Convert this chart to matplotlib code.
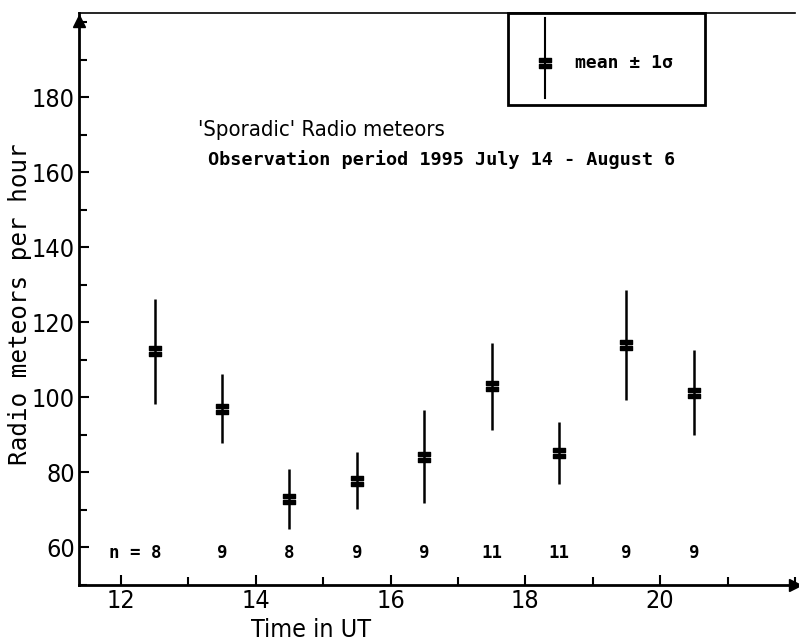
import matplotlib
matplotlib.use("Agg")
import matplotlib.pyplot as plt
from matplotlib.path import Path
from matplotlib.patches import Rectangle
from matplotlib.ticker import MultipleLocator
from matplotlib import font_manager

# data
hours = [12.5, 13.5, 14.5, 15.5, 16.5, 17.5, 18.5, 19.5, 20.5]
means = [112.3, 97.0, 72.8, 77.8, 84.2, 103.0, 85.2, 114.0, 101.2]
sigmas = [14.0, 9.3, 8.0, 7.7, 12.3, 11.6, 8.3, 14.7, 11.3]
counts = [8, 9, 8, 9, 9, 11, 11, 9, 9]

MONO = ["DejaVu Sans Mono"]
cond = [f for f in font_manager.fontManager.ttflist
        if f.name == "DejaVu Sans" and f.stretch not in ("normal", 500)]
HAS_COND = len(cond) > 0
NARROW = ["DejaVu Sans"]

def narrow(t, size):
    t.set_family(NARROW)
    t.set_fontsize(size)
    if HAS_COND:
        t.set_fontstretch("condensed")

# "=" shaped marker: two filled bars
verts = [(-0.5, 0.1), (0.5, 0.1), (0.5, 0.42), (-0.5, 0.42), (-0.5, 0.1),
         (-0.5, -0.42), (0.5, -0.42), (0.5, -0.1), (-0.5, -0.1), (-0.5, -0.42)]
codes = [Path.MOVETO, Path.LINETO, Path.LINETO, Path.LINETO, Path.CLOSEPOLY] * 2
eq_marker = Path(verts, codes)

fig = plt.figure(figsize=(7.99, 6.44), dpi=100)
ax = fig.add_axes([0.099, 0.092, 0.896, 0.888])

ax.errorbar(hours, means, yerr=sigmas, fmt="none", ecolor="black",
            elinewidth=1.8, capsize=0)
ax.plot(hours, means, linestyle="none", marker=eq_marker, markersize=9,
        color="black")

for i, (h, n) in enumerate(zip(hours, counts)):
    lab = f"n = {n}" if i == 0 else str(n)
    ax.text(h + (0.1 if i == 0 else 0), 58.5, lab, ha="right" if i == 0 else "center",
            va="center", family=MONO, fontsize=12.5, fontweight="bold")

ax.set_xlim(11.38, 22.0)
ax.set_ylim(50, 202.5)
ax.set_xticks([12, 14, 16, 18, 20])
ax.xaxis.set_minor_locator(MultipleLocator(1))
ax.set_yticks([60, 80, 100, 120, 140, 160, 180])
ax.yaxis.set_minor_locator(MultipleLocator(10))
ax.tick_params(which="both", direction="in", width=1.5, pad=3)
ax.tick_params(which="major", length=7)
ax.tick_params(which="minor", length=6)
for lab in ax.get_xticklabels() + ax.get_yticklabels():
    narrow(lab, 18 if HAS_COND else 14)

ax.spines["right"].set_visible(False)
for s in ("left", "bottom"):
    ax.spines[s].set_linewidth(2)
ax.spines["top"].set_linewidth(1.2)

# axis arrows
ax.plot(0, 0.985, marker="^", color="black", markersize=8,
        transform=ax.transAxes, clip_on=False)
ax.plot(1.0, 0, marker=">", color="black", markersize=8,
        transform=ax.transAxes, clip_on=False)

xl = ax.set_xlabel("Time in UT")
narrow(xl, 18 if HAS_COND else 15)
ax.xaxis.set_label_coords(0.324, -0.058)
ax.set_ylabel("Radio meteors per hour", family=MONO, fontsize=17.5)
ax.yaxis.set_label_coords(-0.066, 0.49)

t1 = ax.text(0.166, 0.795, "'Sporadic' Radio meteors", transform=ax.transAxes,
             va="center")
narrow(t1, 15.8 if HAS_COND else 15)
ax.text(0.180, 0.743, "Observation period 1995 July 14 - August 6",
        transform=ax.transAxes, family=MONO, fontsize=13.3, fontweight="bold",
        va="center")

# legend box drawn by hand
ax.add_patch(Rectangle((0.599, 0.839), 0.275, 0.161, transform=ax.transAxes,
                       fill=False, linewidth=2, edgecolor="black", clip_on=False))
ax.plot([0.651, 0.651], [0.851, 0.991], color="black", linewidth=1.5,
        transform=ax.transAxes)
ax.plot(0.651, 0.913, marker=eq_marker, markersize=9, color="black",
        transform=ax.transAxes)
ax.text(0.693, 0.913, "mean \u00b1 1\u03c3", transform=ax.transAxes,
        family=MONO, fontsize=13, fontweight="bold", va="center")

fig.savefig("out.png", dpi=100)
plt.close(fig)
